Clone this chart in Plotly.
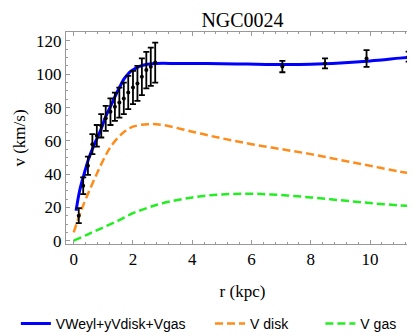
import plotly.graph_objects as go

# observed data
r_obs = [0.17, 0.32, 0.48, 0.63, 0.78, 0.93, 1.08, 1.24, 1.39, 1.54, 1.69, 1.84, 2.00, 2.15, 2.30, 2.45, 2.60, 2.75,
         7.04, 8.48, 9.88, 11.30]
v_obs = [15, 33, 45, 58, 63, 69, 73.5, 77.5, 80.5, 83, 85.5, 89, 92, 94.5, 98.5, 102.5, 104.5, 107,
         104.6, 106.5, 109.5, 110.6]
v_err = [4.5, 5, 5.5, 6, 6.5, 7, 7.5, 8, 8.5, 9, 9.5, 10, 10, 10.5, 11, 11, 11.5, 12,
         3.4, 3, 5, 3]

# model: VWeyl + yVdisk + Vgas
r_tot = [0.08, 0.2, 0.35, 0.5, 0.7, 0.9, 1.09, 1.25, 1.43, 1.6, 1.71, 1.85, 1.94, 2.22, 2.5, 2.78,
         3.5, 4.5, 5.5, 6.5, 7.2, 8.0, 9.0, 10.0, 11.0, 11.65]
v_tot = [18, 30, 40, 49, 58, 66, 75, 81, 88, 94, 97.5, 100.5, 102, 104.8, 106, 106.5,
         106.5, 106.4, 106.2, 105.9, 105.8, 106.0, 106.8, 108.0, 109.7, 110.8]

# V disk
r_disk = [0.0, 0.25, 0.55, 0.8, 1.07, 1.25, 1.5, 1.75, 2.0, 2.5, 3.0, 4.0, 5.0, 6.0, 7.0, 8.0, 9.0, 10.0, 11.0, 11.65]
v_disk = [5, 18, 31, 41, 51, 56.5, 62, 66, 68.5, 70, 69.5, 65.5, 61.5, 58, 55, 52, 48.5, 45, 41.5, 39.8]

# V gas
r_gas = [0.0, 0.5, 1.0, 1.5, 2.0, 2.5, 3.0, 4.0, 5.0, 6.0, 7.0, 8.0, 9.0, 10.0, 11.0, 11.65]
v_gas = [0.0, 4.0, 8.0, 12.0, 16.5, 19.8, 22.5, 26.0, 27.8, 28.2, 27.4, 26.0, 24.3, 22.6, 21.2, 20.5]

NB = "\u00a0"
fig = go.Figure()
fig.add_trace(go.Scatter(x=r_tot, y=v_tot, mode="lines", line=dict(color="#0000FF", width=3, shape="spline"),
                         name="VWeyl+yVdisk+Vgas" + NB * 5))
fig.add_trace(go.Scatter(x=r_disk, y=v_disk, mode="lines",
                         line=dict(color="#FF8C1A", width=2.5, dash="8px,4px", shape="spline"),
                         name="V disk" + NB * 7))
fig.add_trace(go.Scatter(x=r_gas, y=v_gas, mode="lines",
                         line=dict(color="#22EE22", width=2.5, dash="8px,4px", shape="spline"), name="V gas"))
fig.add_trace(go.Scatter(x=r_obs, y=v_obs, mode="markers", marker=dict(color="black", size=4),
                         error_y=dict(type="data", array=v_err, visible=True, color="black", thickness=1.8, width=3),
                         showlegend=False))

serif = "Liberation Serif"
axis_common = dict(showline=True, mirror="ticks", linecolor="#999999", linewidth=1, ticks="inside",
                   tickcolor="#999999", ticklen=4, showgrid=False, zeroline=False,
                   tickfont=dict(family=serif, size=17, color="black"))
fig.update_xaxes(range=[-0.26, 11.65], dtick=2, tick0=0,
                 minor=dict(ticks="inside", ticklen=2, dtick=0.4, tickcolor="#999999", showgrid=False),
                 title=dict(text="r (kpc)", font=dict(family=serif, size=17, color="black"), standoff=16),
                 **axis_common)
fig.update_yaxes(range=[-2.0, 125.4], dtick=20, tick0=0,
                 minor=dict(ticks="inside", ticklen=2, dtick=5, tickcolor="#999999", showgrid=False),
                 title=dict(text="v (km/s)", font=dict(family=serif, size=17, color="black"), standoff=6),
                 **axis_common)
fig.update_layout(
    width=415, height=336,
    margin=dict(l=58, r=4, t=24, b=92),
    paper_bgcolor="white", plot_bgcolor="white",
    title=dict(text="NGC0024", xref="paper", x=0.5, xanchor="center", yref="container", y=0.985, yanchor="top",
               font=dict(family=serif, size=20, color="black")),
    legend=dict(orientation="h", x=-0.142, xanchor="left", y=-0.377, yanchor="middle",
                font=dict(family="Liberation Sans", size=14, color="black"), bgcolor="rgba(0,0,0,0)"),
)
fig.write_html("out.html")
